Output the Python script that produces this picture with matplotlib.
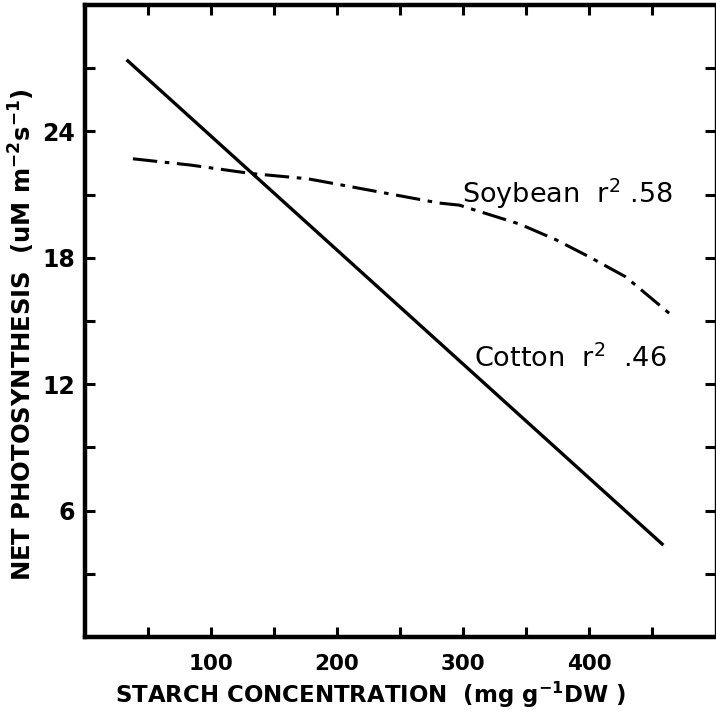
import numpy as np
import matplotlib
matplotlib.use("Agg")
import matplotlib.pyplot as plt

# Fonts: DejaVu is wide, closer to the spaced-out print of the original
plt.rcParams['font.family'] = ['DejaVu Sans']
plt.rcParams['mathtext.fontset'] = 'dejavusans'

# ---------------- data ----------------
cotton_x = [33, 459]
cotton_y = [27.4, 4.36]

soy_x = [38, 84, 132, 177, 281, 297, 345, 374, 400, 429, 465]
soy_y = [22.7, 22.4, 22.0, 21.75, 20.6, 20.5, 19.6, 18.85, 18.05, 17.1, 15.3]

x_ticks = [50, 100, 150, 200, 250, 300, 350, 400, 450]
x_ticklabels = ['', '100', '', '200', '', '300', '', '400', '']
y_ticks = [3, 6, 9, 12, 15, 18, 21, 24, 27]
y_ticklabels = ['', '6', '', '12', '', '18', '', '24', '']

soy_label = r'Soybean  r$^{2}$ .58'
cotton_label = r'Cotton  r$^{2}$  .46'

# ---------------- figure ----------------
W, H = 716, 715
fig = plt.figure(figsize=(W / 100, H / 100), dpi=100)
ax = fig.add_axes([85 / W, 1 - 637 / H, (715 - 85) / W, (637 - 5) / H])

ax.plot(cotton_x, cotton_y, color='black', lw=2.4, solid_capstyle='butt')
ax.plot(soy_x, soy_y, color='black', lw=2.2, linestyle=(0, (8, 2.5, 1.5, 2.5)))

ax.text(299, 20.6, soy_label, fontsize=19.5, va='baseline', ha='left')
ax.text(309, 12.8, cotton_label, fontsize=19.5, va='baseline', ha='left')

ax.set_xlim(0, 500)
ax.set_ylim(0, 30)

ax.set_xticks(x_ticks)
ax.set_xticklabels(x_ticklabels, fontweight='bold')
ax.set_yticks(y_ticks)
ax.set_yticklabels(y_ticklabels, fontweight='bold')

ax.tick_params(axis='both', direction='in', length=7, width=2.2,
               top=True, right=True)
ax.tick_params(axis='x', pad=12, labelsize=15.5)
ax.tick_params(axis='y', pad=7, labelsize=17)

for side in ['left', 'bottom', 'top']:
    ax.spines[side].set_linewidth(3.2)
ax.spines['right'].set_linewidth(1)

ax.set_xlabel(r'STARCH CONCENTRATION  (mg g$^{\mathbf{-1}}$DW )',
              fontsize=16.5, fontweight='bold')
ax.xaxis.set_label_coords(0.453, -0.068)
ax.set_ylabel(r'NET PHOTOSYNTHESIS  (uM m$^{\mathbf{-2}}$s$^{\mathbf{-1}}$)',
              fontsize=17.5, fontweight='bold')
ax.yaxis.set_label_coords(-0.076, 0.478)

fig.savefig('out.png', dpi=100)
